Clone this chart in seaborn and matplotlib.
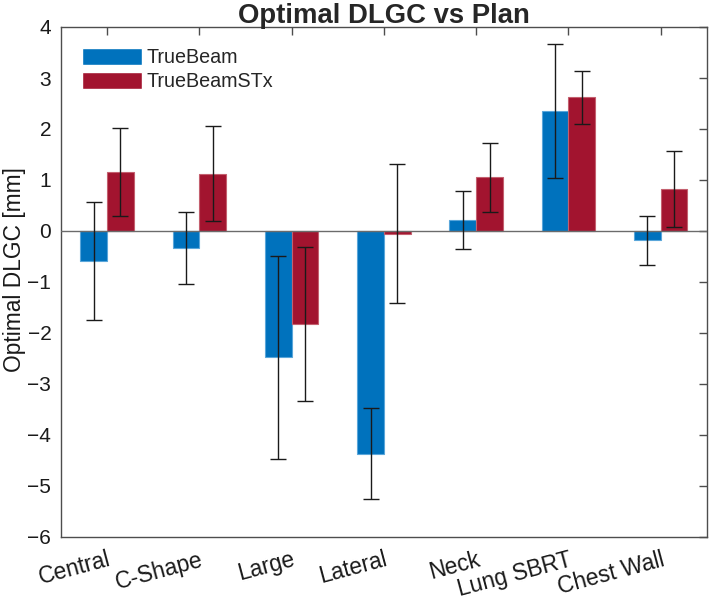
import numpy as np
import pandas as pd
import matplotlib
matplotlib.use('Agg')
import matplotlib.pyplot as plt
import seaborn as sns

# values (mm)
plans = ['Central', 'C-Shape', 'Large', 'Lateral', 'Neck', 'Lung SBRT', 'Chest Wall']
machines = ['TrueBeam', 'TrueBeamSTx']
truebeam_mean = [-0.59, -0.33, -2.48, -4.37, 0.22, 2.35, -0.18]
truebeam_sd = [1.15, 0.71, 1.99, 0.89, 0.57, 1.31, 0.48]
stx_mean = [1.16, 1.12, -1.82, -0.05, 1.05, 2.62, 0.82]
stx_sd = [0.86, 0.93, 1.51, 1.36, 0.68, 0.52, 0.74]
yticks = [-6, -5, -4, -3, -2, -1, 0, 1, 2, 3, 4]

BLUE = '#0072BD'
RED = '#A2142F'
EDGES = {'TrueBeam': '#5AA6DA', 'TrueBeamSTx': '#C4606F'}
AXIS_COLOR = '#4D4D4D'

sns.set_style('white')
plt.rcParams['font.family'] = ['Liberation Sans', 'DejaVu Sans']

df = pd.DataFrame({
    'Plan': plans * 2,
    'Machine': ['TrueBeam'] * len(plans) + ['TrueBeamSTx'] * len(plans),
    'DLGC': truebeam_mean + stx_mean,
    'SD': truebeam_sd + stx_sd,
})

fig = plt.figure(figsize=(7.09, 6.0), dpi=100)
ax = fig.add_axes([0.086, 0.105, 0.911, 0.85])

sns.barplot(data=df, x='Plan', y='DLGC', hue='Machine', order=plans, hue_order=machines,
            palette=[BLUE, RED], width=0.58, errorbar=None, saturation=1, ax=ax)

# error bars at each bar centre, using the positions seaborn gave the bars
for cont, m in zip(ax.containers, machines):
    sub = df[df['Machine'] == m].set_index('Plan').loc[plans]
    xs = [b.get_x() + b.get_width() / 2 for b in cont]
    for b in cont:
        b.set_edgecolor(EDGES[m])
        b.set_linewidth(0.8)
    ax.errorbar(xs, sub['DLGC'], yerr=sub['SD'], fmt='none', ecolor='#1a1a1a',
                elinewidth=1.0, capsize=5.5, capthick=1.0, zorder=5)

ax.axhline(0, color='#6b6b6b', linewidth=1.0, zorder=4)

ax.set_xlim(-0.5, 6.5)
ax.set_ylim(-6, 4)
ax.set_yticks(yticks)
ax.set_yticklabels([str(v).replace('-', '\u2212') for v in yticks])
ax.set_xticks(range(len(plans)))
ax.set_xticklabels(plans, rotation=15, ha='right', va='top', rotation_mode='anchor')

ax.tick_params(direction='in', length=6, width=1, top=True, right=True,
               colors=AXIS_COLOR, labelcolor='#1a1a1a')
ax.tick_params(axis='y', labelsize=15, pad=7)
ax.tick_params(axis='x', labelsize=16.4, pad=8)
for s in ax.spines.values():
    s.set_color(AXIS_COLOR)
    s.set_linewidth(1.0)

ax.set_xlabel('')
ax.set_ylabel('Optimal DLGC [mm]', fontsize=16.4, color='#1a1a1a')
ax.yaxis.set_label_coords(-0.054, 0.524)
ax.set_title('Optimal DLGC vs Plan', fontsize=19.8, fontweight='bold', pad=3)

handles, labels = ax.get_legend_handles_labels()
ax.legend(handles, labels, loc='upper left', frameon=False, fontsize=14.2,
          handlelength=3.05, handleheight=1.0, handletextpad=0.25, labelspacing=0.22,
          borderaxespad=0.7, borderpad=0.35)

fig.savefig('out.png', dpi=100)
